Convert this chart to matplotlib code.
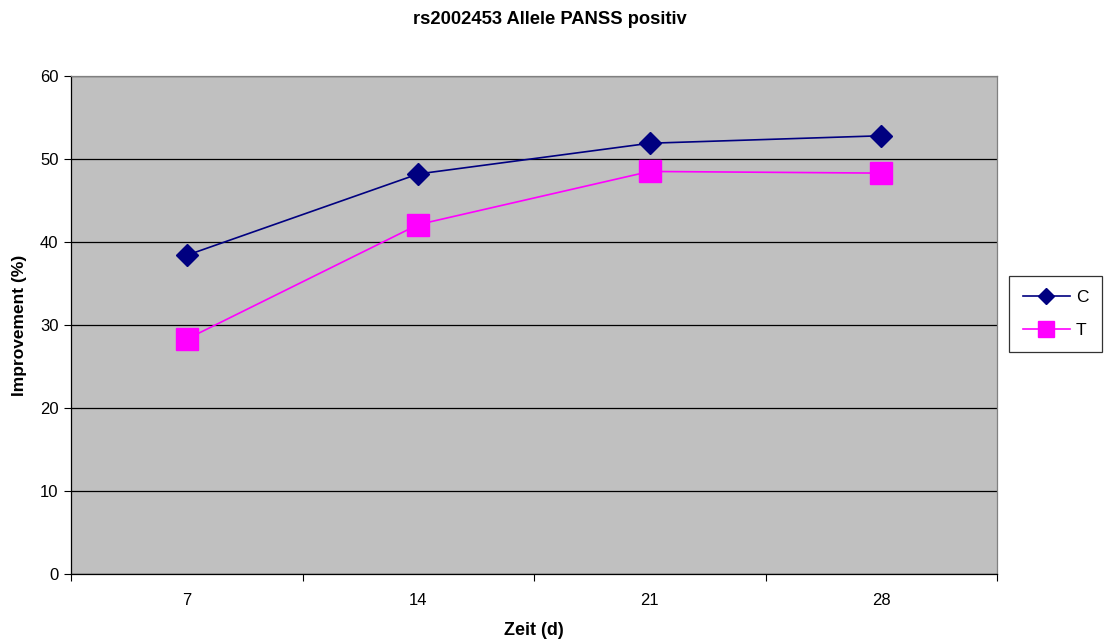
import matplotlib
matplotlib.use("Agg")
import matplotlib.pyplot as plt
from matplotlib.ticker import FixedLocator, NullFormatter, FixedFormatter

plt.rcParams['font.family'] = ['Liberation Sans', 'DejaVu Sans']

days = ["7", "14", "21", "28"]
allele_c = [38.4, 48.2, 51.9, 52.8]
allele_t = [28.3, 42.1, 48.5, 48.3]
y_ticks = [0, 10, 20, 30, 40, 50, 60]

fig = plt.figure(figsize=(11.05, 6.44), dpi=100)
ax = fig.add_axes([71 / 1105, 70 / 644, 926 / 1105, 498 / 644])
ax.set_facecolor("#C0C0C0")

x = list(range(1, len(days) + 1))
ax.plot(x, allele_c, color="#000080", lw=1.2, marker="D", markersize=11.5,
        markerfacecolor="#000080", markeredgecolor="#000080", label="C", zorder=3)
ax.plot(x, allele_t, color="#FF00FF", lw=1.2, marker="s", markersize=16,
        markerfacecolor="#FF00FF", markeredgecolor="#FF00FF", label="T", zorder=3)

ax.set_xlim(0.5, len(days) + 0.5)
ax.set_ylim(0, 60)

# category boundaries carry the tick marks, centres carry the labels
ax.xaxis.set_major_locator(FixedLocator([i + 0.5 for i in range(len(days) + 1)]))
ax.xaxis.set_major_formatter(NullFormatter())
ax.xaxis.set_minor_locator(FixedLocator(x))
ax.xaxis.set_minor_formatter(FixedFormatter(days))
ax.tick_params(axis="x", which="major", length=5, width=0.8, direction="out")
ax.tick_params(axis="x", which="minor", length=0, pad=14, labelsize=12)

ax.set_yticks(y_ticks)
ax.tick_params(axis="y", length=5, width=0.8, direction="out", labelsize=12, pad=4)
ax.yaxis.grid(True, color="black", lw=0.9)
ax.set_axisbelow(True)

for side in ("left", "bottom"):
    ax.spines[side].set_color("black")
    ax.spines[side].set_linewidth(0.9)
for side in ("top", "right"):
    ax.spines[side].set_color("#808080")
    ax.spines[side].set_linewidth(0.9)

ax.set_xlabel("Zeit (d)", fontsize=13, fontweight="bold", labelpad=10)
ax.set_ylabel("Improvement (%)", fontsize=12.5, fontweight="bold", labelpad=9)
fig.text(550 / 1105, 1 - 19 / 644, "rs2002453 Allele PANSS positiv",
         ha="center", va="center", fontsize=13.2, fontweight="bold")

leg = fig.legend(loc="center", bbox_to_anchor=(1055.5 / 1105, 1 - 314 / 644),
                 frameon=True, fancybox=False, fontsize=12.5, handlelength=2.7,
                 borderpad=0.8, labelspacing=1.05, handletextpad=0.35,
                 borderaxespad=0)
leg.get_frame().set_edgecolor("black")
leg.get_frame().set_linewidth(0.9)
for h in leg.legend_handles:
    h.set_markersize(h.get_markersize() * 0.75)

fig.savefig("out.png", dpi=100)
